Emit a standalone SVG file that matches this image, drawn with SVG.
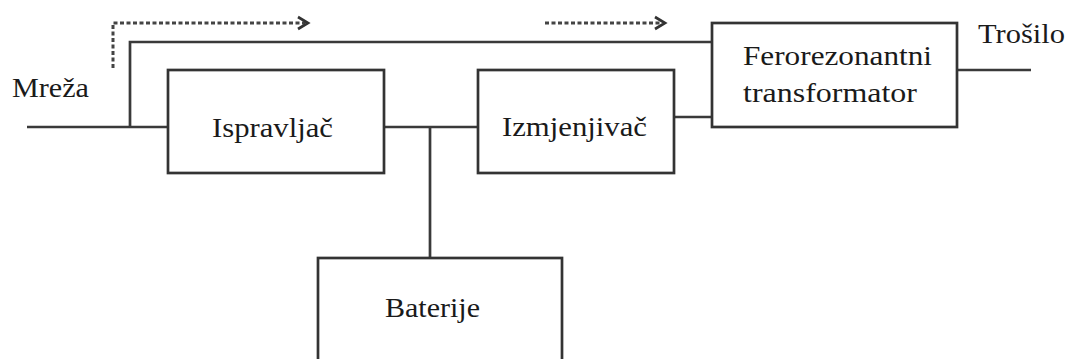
<svg xmlns="http://www.w3.org/2000/svg" width="1070" height="359" viewBox="0 0 1070 359">
<style>
.box{fill:#fff;stroke:#333;stroke-width:2.7}
.ln{fill:none;stroke:#3a3a3a;stroke-width:2.7}
.dot{fill:none;stroke:#444;stroke-width:3;stroke-dasharray:4 2.5}
.arr{fill:none;stroke:#333;stroke-width:2.7}
text{font-family:"Liberation Serif","DejaVu Serif",serif;font-size:28px;fill:#1a1a1a}
</style>
<rect width="1070" height="359" fill="#fff"/>
<g id="connectors">
<path class="ln" d="M27 127H168"/>
<path class="ln" d="M130 127V42H712"/>
<path class="ln" d="M384 127H478"/>
<path class="ln" d="M430 127V258"/>
<path class="ln" d="M674 117H712"/>
<path class="ln" d="M957 70H1031"/>
<path class="dot" d="M113 68V23H305"/>
<path class="arr" d="M298 17L308 23L298 29"/>
<path class="dot" d="M545 23H662"/>
<path class="arr" d="M655 17L665 23L655 29"/>
</g>
<g id="ispravljac"><rect class="box" x="168" y="70" width="216" height="103"/><text x="212" y="137" textLength="121" lengthAdjust="spacingAndGlyphs">Ispravljač</text></g>
<g id="izmjenjivac"><rect class="box" x="478" y="70" width="196" height="103"/><text x="502" y="136" textLength="145" lengthAdjust="spacingAndGlyphs">Izmjenjivač</text></g>
<g id="ferorezonantni"><rect class="box" x="712" y="23" width="245" height="104"/><text x="743" y="65" textLength="189" lengthAdjust="spacingAndGlyphs">Ferorezonantni</text><text x="743" y="102" textLength="174" lengthAdjust="spacingAndGlyphs">transformator</text></g>
<g id="baterije"><rect class="box" x="318" y="258" width="244" height="110"/><text x="385" y="317" textLength="95" lengthAdjust="spacingAndGlyphs">Baterije</text></g>
<g id="mreza"><text x="12" y="97" textLength="77" lengthAdjust="spacingAndGlyphs">Mreža</text></g>
<g id="trosilo"><text x="978" y="43" textLength="87" lengthAdjust="spacingAndGlyphs">Trošilo</text></g>
</svg>
